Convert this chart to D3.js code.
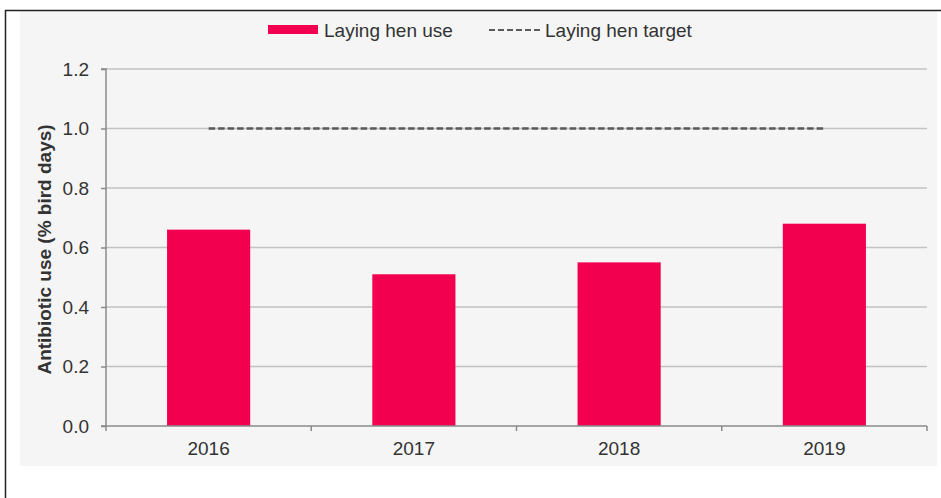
<!DOCTYPE html>
<html>
<head>
<meta charset="utf-8">
<script src="https://cdn.jsdelivr.net/npm/d3@7/dist/d3.min.js"></script>
<style>
  html, body { margin: 0; padding: 0; background: #fff; }
  svg { display: block; }
  text { font-family: "Liberation Sans", Arial, sans-serif; fill: #333; }
</style>
</head>
<body>
<svg id="chart" width="941" height="498"></svg>
<script>
// Antibiotic use in laying hens, % bird days
const years = ["2016", "2017", "2018", "2019"];
const henUse = [0.66, 0.51, 0.55, 0.68];
const henTarget = 1.0;
const yTicks = [0, 0.2, 0.4, 0.6, 0.8, 1.0, 1.2];
const legendLabels = ["Laying hen use", "Laying hen target"];
const axisTitle = "Antibiotic use (% bird days)";

const W = 941, H = 498;
const plot = { left: 106, right: 927, top: 69, bottom: 426 };
const barColor = "#f2004f";
const fontSize = "19px";

const svg = d3.select("#chart");

// frame and panel
svg.append("rect").attr("x", 20).attr("y", 10).attr("width", 917).attr("height", 456)
  .attr("fill", "#f5f5f5");
svg.append("path").attr("d", `M5.5,${H} V10.5 H${W}`)
  .attr("fill", "none").attr("stroke", "#222").attr("stroke-width", 1.5);

const x = d3.scaleBand().domain(years).range([plot.left, plot.right]).paddingInner(0).paddingOuter(0);
const y = d3.scaleLinear().domain([0, 1.2]).range([plot.bottom, plot.top]);
const barW = x.bandwidth() * 0.405;

// gridlines
svg.append("g").selectAll("line").data(yTicks.filter(d => d > 0)).join("line")
  .attr("x1", plot.left).attr("x2", plot.right)
  .attr("y1", d => y(d)).attr("y2", d => y(d))
  .attr("stroke", "#c2c2c2").attr("stroke-width", 1.5);

// bars
svg.append("g").selectAll("rect").data(years).join("rect")
  .attr("x", (d) => x(d) + (x.bandwidth() - barW) / 2)
  .attr("width", barW)
  .attr("y", (d, i) => y(henUse[i]))
  .attr("height", (d, i) => y(0) - y(henUse[i]))
  .attr("fill", barColor);

// target line from first to last category centre
svg.append("line")
  .attr("x1", x(years[0]) + x.bandwidth() / 2)
  .attr("x2", x(years[years.length - 1]) + x.bandwidth() / 2)
  .attr("y1", y(henTarget)).attr("y2", y(henTarget))
  .attr("stroke", "#5a5a5a").attr("stroke-width", 2.4).attr("stroke-dasharray", "6.5,3");

// y axis
const yAxis = d3.axisLeft(y).tickValues(yTicks).tickFormat(d3.format(".1f")).tickSize(5).tickPadding(12);
const gy = svg.append("g").attr("transform", `translate(${plot.left},0)`).call(yAxis);
gy.select(".domain").attr("stroke", "#8a8a8a").attr("stroke-width", 1.5).attr("d", `M-5,${plot.top}H0V${plot.bottom}H-5`);
gy.selectAll(".tick line").attr("stroke", "#8a8a8a").attr("stroke-width", 1.5);
gy.selectAll(".tick text").style("font-size", fontSize).attr("fill", "#333")
  .style("font-family", "'Liberation Sans', Arial, sans-serif");

// x axis
const xAxis = d3.axisBottom(x).tickSize(0).tickPadding(16);
const gx = svg.append("g").attr("transform", `translate(0,${plot.bottom})`).call(xAxis);
gx.select(".domain").attr("stroke", "#8a8a8a").attr("stroke-width", 1.5).attr("d", `M${plot.left},0H${plot.right}`);
gx.selectAll(".tick text").style("font-size", fontSize).attr("fill", "#333")
  .style("font-family", "'Liberation Sans', Arial, sans-serif");
// boundary ticks between categories
const bounds = years.map(d => x(d)).concat([plot.right]);
svg.append("g").selectAll("line").data(bounds).join("line")
  .attr("x1", d => d).attr("x2", d => d)
  .attr("y1", plot.bottom).attr("y2", plot.bottom + 5)
  .attr("stroke", "#8a8a8a").attr("stroke-width", 1.5);

// axis title
svg.append("text")
  .attr("transform", `translate(51,${(plot.top + plot.bottom) / 2 + 2}) rotate(-90)`)
  .attr("text-anchor", "middle")
  .style("font-size", fontSize).style("font-weight", "bold")
  .text(axisTitle);

// legend
const lg = svg.append("g");
lg.append("rect").attr("x", 268).attr("y", 25).attr("width", 50).attr("height", 9).attr("fill", barColor);
lg.append("text").attr("x", 324).attr("y", 37).style("font-size", fontSize).text(legendLabels[0]);
lg.append("line").attr("x1", 489).attr("x2", 541).attr("y1", 30).attr("y2", 30)
  .attr("stroke", "#5a5a5a").attr("stroke-width", 2).attr("stroke-dasharray", "6,3");
lg.append("text").attr("x", 545).attr("y", 37).style("font-size", fontSize).text(legendLabels[1]);
</script>
</body>
</html>
